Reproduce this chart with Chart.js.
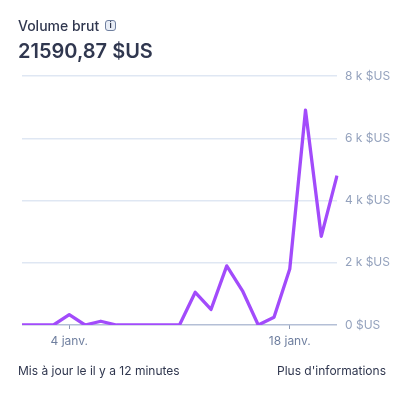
<!DOCTYPE html>
<html lang="fr">
<head>
<meta charset="utf-8">
<script src="https://cdn.jsdelivr.net/npm/chart.js@4"></script>
<style>
html,body{margin:0;padding:0;background:#fff;width:414px;height:404px;overflow:hidden;font-family:Inter,sans-serif}
canvas{position:absolute;left:0;top:0}
.t{position:absolute;white-space:nowrap;line-height:1}
#label{left:18px;top:19px;font-size:14px;font-weight:500;color:#30374f}
#value{left:18px;top:41px;font-size:20px;font-weight:600;color:#30374f}
#foot1{left:18px;top:365px;font-size:12px;color:#30374f}
#foot2{right:28px;top:365px;font-size:12px;color:#30374f}
#info{position:absolute;left:105px;top:20px;width:9px;height:9px;border:1.5px solid #6f7f9f;border-radius:3px;background:#e8edf6;font-size:8px;line-height:9px;text-align:center;color:#30374f;font-weight:700}
</style>
</head>
<body>
<canvas id="c" width="414" height="404"></canvas>
<div class="t" id="label">Volume brut</div><div id="info">i</div>
<div class="t" id="value">21590,87 $US</div>
<div class="t" id="foot1">Mis à jour le il y a 12 minutes</div>
<div class="t" id="foot2">Plus d'informations</div>
<script>
const categories = ['1 janv.','2 janv.','3 janv.','4 janv.','5 janv.','6 janv.','7 janv.','8 janv.','9 janv.','10 janv.','11 janv.','12 janv.','13 janv.','14 janv.','15 janv.','16 janv.','17 janv.','18 janv.','19 janv.','20 janv.','21 janv.'];
const volume = [0,0,0,330,0,120,0,0,0,0,0,1050,500,1900,1100,0,250,1800,6900,2850,4800];
const shownDates = ['4 janv.','18 janv.'];
const yTicks = [0,2000,4000,6000,8000];

new Chart(document.getElementById('c'), {
  type: 'line',
  data: { labels: categories, datasets: [{ data: volume, borderColor: '#a24bfb', borderWidth: 3.3, pointRadius: 0, tension: 0, fill: false, borderJoinStyle: 'round', borderCapStyle: 'butt' }] },
  options: {
    responsive: false, animation: false, events: [],
    layout: { padding: { left: 22, top: 76, right: 0, bottom: 0 } },
    plugins: { legend: { display: false }, tooltip: { enabled: false } },
    scales: {
      x: {
        offset: false,
        afterFit: s => { s.height = 79; },
        grid: { display: true, drawOnChartArea: false, drawTicks: true, tickLength: 4,
                tickColor: c => shownDates.includes(c.tick && c.tick.label) ? '#8d9ab5' : 'rgba(0,0,0,0)', color: 'rgba(0,0,0,0)' },
        border: { display: false },
        ticks: { autoSkip: false, maxRotation: 0, minRotation: 0, padding: 5, color: '#6f7f9f', font: { family: 'Inter', size: 12 },
                 callback: function (v) { const l = this.getLabelForValue(v); return shownDates.includes(l) ? l : ''; } }
      },
      y: {
        position: 'right', min: 0, max: 8000,
        afterFit: s => { s.width = 77; },
        afterBuildTicks: s => { s.ticks = yTicks.map(v => ({ value: v })); },
        grid: { drawTicks: false, lineWidth: 1.5, color: c => c.tick && c.tick.value === 0 ? '#b4bfd6' : '#dfe7f3' },
        border: { display: false },
        ticks: { padding: 8, color: '#94a2bd', font: { family: 'Inter', size: 12 },
                 callback: v => v === 0 ? '0 $US' : (v / 1000) + ' k $US' }
      }
    }
  }
});
</script>
</body>
</html>
